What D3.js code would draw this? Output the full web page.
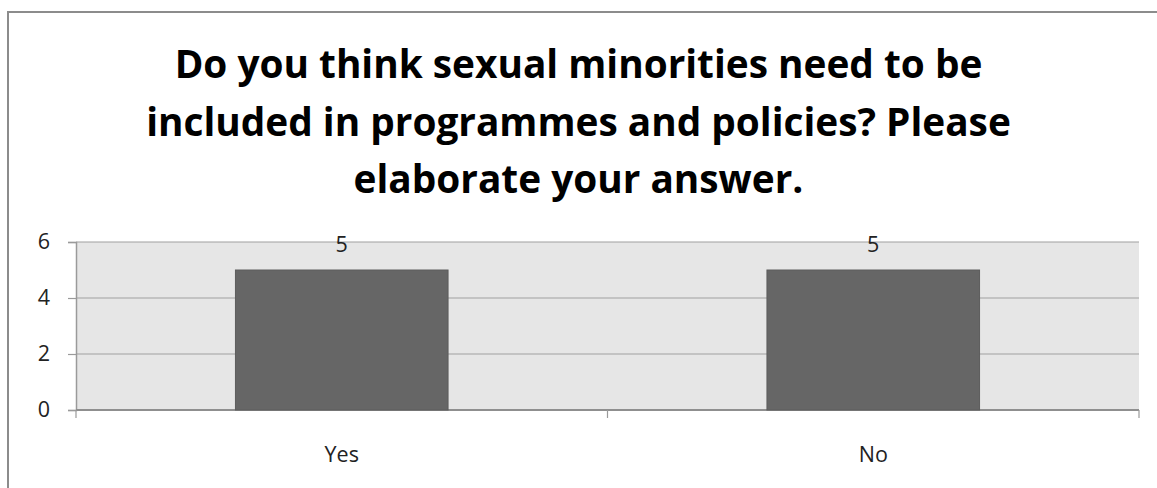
<!DOCTYPE html>
<html>
<head>
<meta charset="utf-8">
<script src="https://cdn.jsdelivr.net/npm/d3@7"></script>
<style>
  html, body { margin: 0; padding: 0; background: #fff; }
  svg { display: block; }
</style>
</head>
<body>
<svg id="chart" width="1157" height="488"></svg>
<script>
// Survey responses
const categories = ["Yes", "No"];
const values = [5, 5];
const yTicks = [0, 2, 4, 6];
const titleLines = [
  "Do you think sexual minorities need to be",
  "included in programmes and policies? Please",
  "elaborate your answer."
];

const svg = d3.select("#chart");
const W = 1157, H = 488;
const plot = { left: 76, right: 1139, top: 242, bottom: 410 };
const labelFont = "'Open Sans', 'DejaVu Sans', sans-serif";
const labelSize = 21.5;

// Chart frame (runs past the right and bottom edges)
svg.append("rect")
  .attr("x", 8).attr("y", 12)
  .attr("width", W + 20).attr("height", H + 20)
  .attr("fill", "#fff")
  .attr("stroke", "#8c8c8c")
  .attr("stroke-width", 2);

// Title
const title = svg.append("g");
const tLines = title.selectAll("text")
  .data(titleLines)
  .join("text")
  .attr("x", W / 2)
  .attr("y", (d, i) => [78, 136, 193][i])
  .attr("text-anchor", "middle")
  .attr("font-family", labelFont)
  .attr("font-weight", "bold")
  .attr("font-size", 40)
  .attr("fill", "#000")
  .text(d => d);
// size the title so the first line spans about 808px
const w0 = tLines.node().getComputedTextLength();
tLines.attr("font-size", 40 * 808 / w0);

// Scales
const x = d3.scaleBand()
  .domain(categories)
  .range([plot.left, plot.right])
  .paddingInner(0.6)
  .paddingOuter(0.3);

const y = d3.scaleLinear()
  .domain([0, 6])
  .range([plot.bottom, plot.top]);

// Plot area background
svg.append("rect")
  .attr("x", plot.left).attr("y", plot.top)
  .attr("width", plot.right - plot.left)
  .attr("height", plot.bottom - plot.top)
  .attr("fill", "#e6e6e6");

// Gridlines
svg.append("g")
  .selectAll("line")
  .data(yTicks.filter(t => t > 0))
  .join("line")
  .attr("x1", plot.left).attr("x2", plot.right)
  .attr("y1", d => y(d)).attr("y2", d => y(d))
  .attr("stroke", "#a0a0a0")
  .attr("stroke-width", 1.2);

// Y axis
const yAxis = svg.append("g")
  .attr("transform", `translate(${plot.left},0)`)
  .call(d3.axisLeft(y).tickValues(yTicks).tickSize(8).tickPadding(18).tickFormat(d3.format("d")));
yAxis.select(".domain").attr("stroke", "#9a9a9a").attr("stroke-width", 1.5);
yAxis.selectAll(".tick line").attr("stroke", "#9a9a9a").attr("stroke-width", 1.2);
yAxis.selectAll(".tick text")
  .attr("font-family", labelFont)
  .attr("font-size", labelSize)
  .attr("fill", "#222");

// X axis with boundary ticks between categories
const xAxis = svg.append("g")
  .attr("transform", `translate(0,${plot.bottom})`);
xAxis.append("line")
  .attr("x1", plot.left).attr("x2", plot.right)
  .attr("stroke", "#8f8f8f").attr("stroke-width", 1.8);
const step = x.step();
const edges = [plot.left].concat(categories.map(c => x(c) + x.bandwidth() / 2 + step / 2));
xAxis.selectAll("line.edge")
  .data(edges)
  .join("line")
  .attr("class", "edge")
  .attr("x1", d => d).attr("x2", d => d)
  .attr("y1", 0).attr("y2", 8)
  .attr("stroke", "#9a9a9a").attr("stroke-width", 1.2);
xAxis.selectAll("text")
  .data(categories)
  .join("text")
  .attr("x", d => x(d) + x.bandwidth() / 2)
  .attr("y", 52)
  .attr("text-anchor", "middle")
  .attr("font-family", labelFont)
  .attr("font-size", labelSize)
  .attr("fill", "#222")
  .text(d => d);

// Bars
svg.append("g")
  .selectAll("rect")
  .data(categories)
  .join("rect")
  .attr("x", d => x(d))
  .attr("y", (d, i) => y(values[i]))
  .attr("width", x.bandwidth())
  .attr("height", (d, i) => y(0) - y(values[i]))
  .attr("fill", "#666666")
  .attr("stroke", "#5c5c5c")
  .attr("stroke-width", 1);

// Value labels
svg.append("g")
  .selectAll("text")
  .data(categories)
  .join("text")
  .attr("x", d => x(d) + x.bandwidth() / 2)
  .attr("y", (d, i) => y(values[i]) - 18)
  .attr("text-anchor", "middle")
  .attr("font-family", labelFont)
  .attr("font-size", labelSize)
  .attr("fill", "#222")
  .text((d, i) => values[i]);
</script>
</body>
</html>
